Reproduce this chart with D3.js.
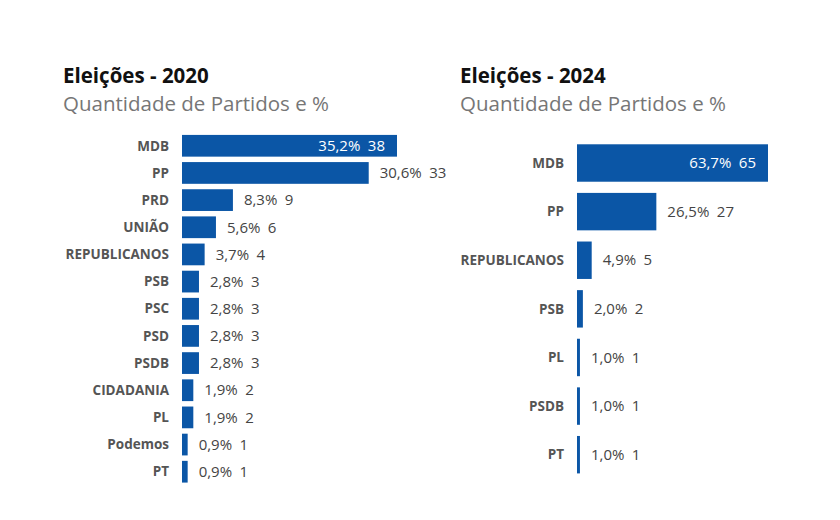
<!DOCTYPE html>
<html><head><meta charset="utf-8">
<script src="https://cdn.jsdelivr.net/npm/d3@7"></script>
<style>
body{margin:0;background:#fff;}
text{font-family:"Open Sans","Noto Sans",sans-serif;}
</style></head>
<body><svg id="c" width="840" height="520"></svg>
<script>
const parties2020 = ["MDB","PP","PRD","UNIÃO","REPUBLICANOS","PSB","PSC","PSD","PSDB","CIDADANIA","PL","Podemos","PT"];
const counts2020 = [38,33,9,6,4,3,3,3,3,2,2,1,1];
const pct2020 = ["35,2%","30,6%","8,3%","5,6%","3,7%","2,8%","2,8%","2,8%","2,8%","1,9%","1,9%","0,9%","0,9%"];
const parties2024 = ["MDB","PP","REPUBLICANOS","PSB","PL","PSDB","PT"];
const counts2024 = [65,27,5,2,1,1,1];
const pct2024 = ["63,7%","26,5%","4,9%","2,0%","1,0%","1,0%","1,0%"];
const titles = ["Eleições - 2020","Eleições - 2024"];
const subtitle = "Quantidade de Partidos e %";

const svg = d3.select("#c");
const BLUE = "#0b56a6";

function panel(cfg){
  const g = svg.append("g");
  g.append("text").attr("x",cfg.tx).attr("y",83).attr("font-size",20.5).attr("font-weight",700)
    .attr("fill","#111").text(cfg.title);
  g.append("text").attr("x",cfg.tx).attr("y",111).attr("font-size",20.5)
    .attr("fill","#767676").text(subtitle);
  const x = d3.scaleLinear().domain([0,cfg.max]).range([cfg.x0,cfg.x1]);
  const y = d3.scaleBand().domain(cfg.cats).range([cfg.y0,cfg.y1]).paddingInner(cfg.pad).paddingOuter(cfg.pad/2);
  const data = cfg.cats.map((c,i)=>({c, v:cfg.vals[i], p:cfg.pcts[i]}));
  g.append("g").selectAll("rect").data(data).join("rect")
    .attr("x",x(0)).attr("y",d=>y(d.c)).attr("width",d=>x(d.v)-x(0)).attr("height",y.bandwidth())
    .attr("fill",BLUE);
  g.append("g").selectAll("text").data(data).join("text")
    .attr("x",x(0)-13).attr("y",d=>y(d.c)+y.bandwidth()/2).attr("dy","0.35em")
    .attr("text-anchor","end").attr("font-size",13.5).attr("font-weight",700).attr("fill","#555")
    .text(d=>d.c);
  g.append("g").selectAll("text").data(data).join("text")
    .attr("x",d=> d.v===cfg.max ? x(d.v)-12 : x(d.v)+11)
    .attr("y",d=>y(d.c)+y.bandwidth()/2).attr("dy","0.35em")
    .attr("text-anchor",d=> d.v===cfg.max ? "end":"start")
    .attr("font-size",15).attr("fill",d=> d.v===cfg.max ? "#fff":"#444")
    .attr("xml:space","preserve")
    .text(d=>d.p+"\u2002"+d.v);
}
panel({title:titles[0],tx:63,cats:parties2020,vals:counts2020,pcts:pct2020,max:38,
  x0:182,x1:397,y0:132.2,y1:485.3,pad:0.2});
panel({title:titles[1],tx:460,cats:parties2024,vals:counts2024,pcts:pct2024,max:65,
  x0:577,x1:768,y0:138.7,y1:479,pad:0.23});
</script></body></html>
